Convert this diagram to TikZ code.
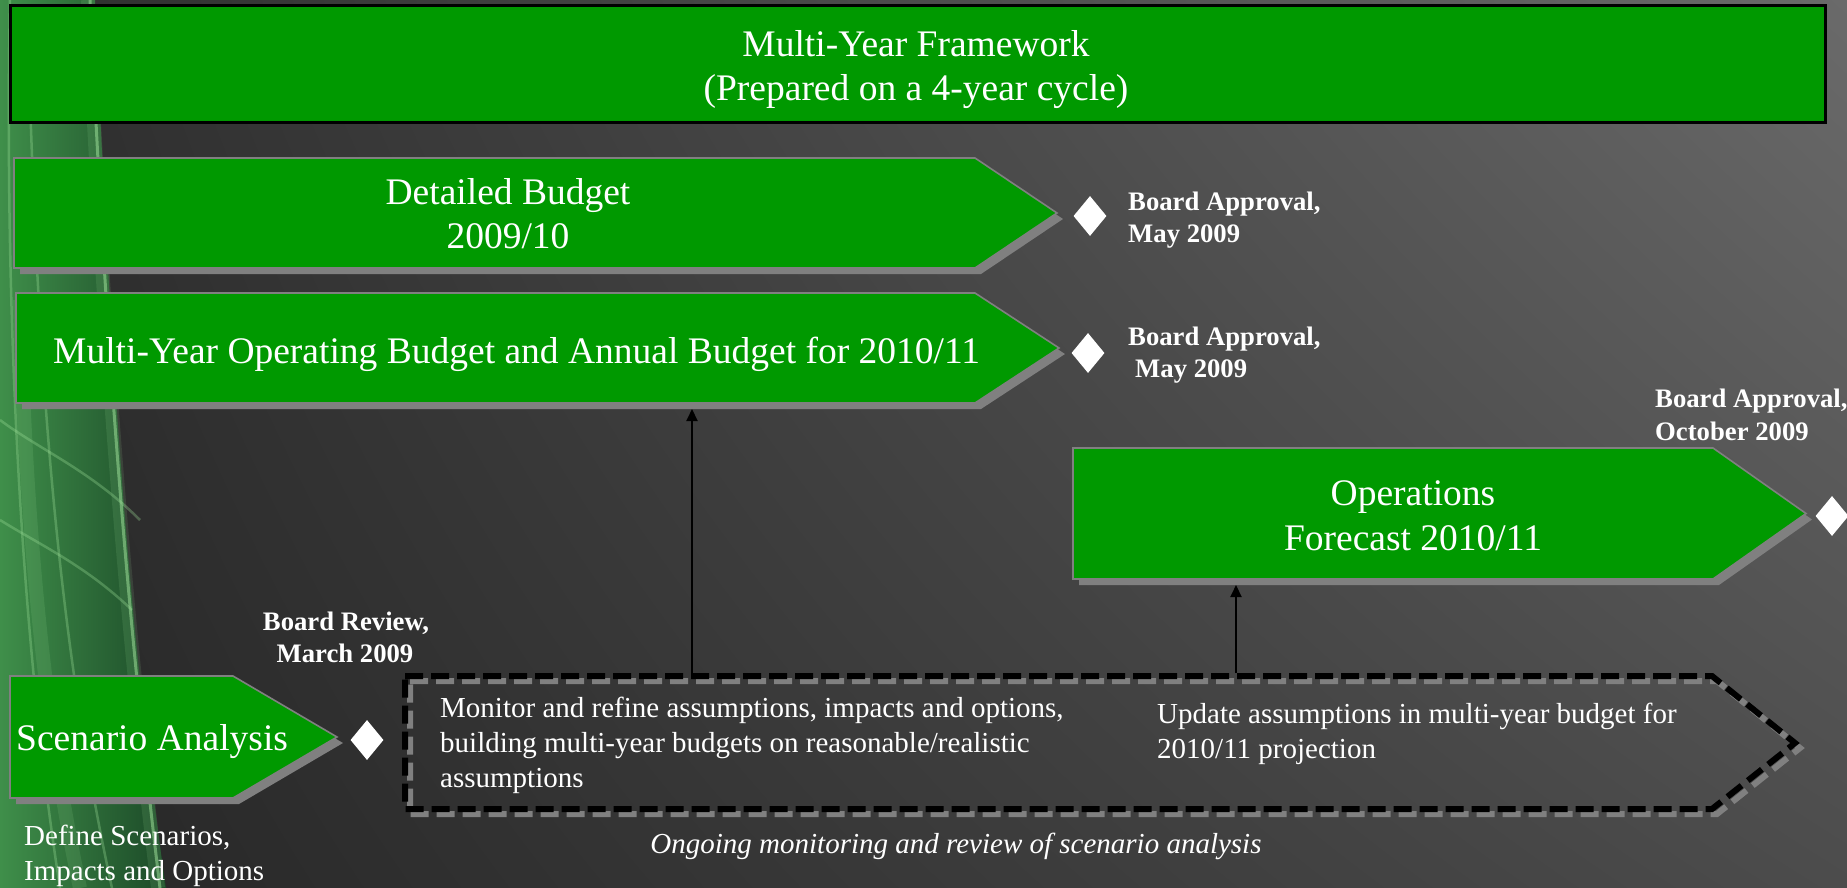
\documentclass[tikz,border=0pt]{standalone}
\usepackage{fontspec}
\setmainfont{Liberation Serif}
\usetikzlibrary{arrows.meta,shapes.geometric,shadings}
\definecolor{boxgreen}{HTML}{009900}
\definecolor{shadowgray}{HTML}{808080}
\definecolor{bgUL}{HTML}{2E2E2E}
\definecolor{bgUR}{HTML}{6A6A6A}
\definecolor{bgLL}{HTML}{262626}
\definecolor{bgLR}{HTML}{4C4C4C}
\definecolor{swirlL}{HTML}{3F8F4A}
\definecolor{swirlR}{HTML}{1C4A28}
\definecolor{swirlLine}{HTML}{A6E8A0}
\newcommand{\gArrow}[5]{%
  \fill[shadowgray] ({#1+6},{#2+6}) -- ({#4+6},{#2+6}) -- ({#5+6},{(#2+#3)/2+6}) -- ({#4+6},{#3+6}) -- ({#1+6},{#3+6}) -- cycle;
  \filldraw[fill=boxgreen, draw=shadowgray, line width=1.6] (#1,#2) -- (#4,#2) -- (#5,{(#2+#3)/2}) -- (#4,#3) -- (#1,#3) -- cycle;
}
\begin{document}
\begin{tikzpicture}[x=1pt,y=-1pt,
  big/.style={text=white, inner sep=0, font=\fontsize{37.5}{44}\selectfont},
  small/.style={text=white, inner sep=0, font=\fontsize{29}{35}\selectfont},
  lab/.style={text=white, inner sep=0, font=\bfseries\fontsize{26.7}{32}\selectfont},
  diam/.style={shape=diamond, fill=white, draw=none, inner sep=0, minimum width=33, minimum height=40},
  conn/.style={draw=black, line width=2, -{Triangle[width=11pt,length=12pt]}},
  dashblack/.style={draw=black, line width=6, dash pattern=on 18pt off 8pt},
  dashgray/.style={draw=shadowgray, line width=6, dash pattern=on 18pt off 8pt},
  swirl/.style={draw=swirlLine, line width=2.5, opacity=0.3},
  glow/.style={draw=swirlLine, line width=14, opacity=0.12}
]
\useasboundingbox (0,0) rectangle (1847,888);
% background
\shade[upper left=bgUL, upper right=bgUR, lower left=bgLL, lower right=bgLR] (0,0) rectangle (1847,888);
% green swirl
\shade[left color=swirlL, right color=swirlR] (0,0) -- (95,0) .. controls (108,300) and (124,600) .. (166,888) -- (0,888) -- cycle;
\draw[glow] (88,0) .. controls (100,260) and (118,560) .. (158,888);
\draw[glow] (20,300) .. controls (25,500) and (40,700) .. (80,888);
\draw[swirl, line width=3, opacity=0.5] (90,0) .. controls (102,260) and (120,560) .. (160,888);
\draw[swirl] (30,100) .. controls (40,400) and (60,650) .. (112,888);
\draw[swirl] (0,420) .. controls (40,450) and (90,470) .. (140,520);
\draw[swirl] (0,520) .. controls (40,545) and (85,565) .. (132,610);
\draw[swirl] (10,0) .. controls (5,250) and (15,600) .. (60,888);

% top framework box
\filldraw[fill=boxgreen, draw=black, line width=3] (10.5,5.5) rectangle (1825,123);
\node[big, anchor=base] (mf1) at (916,57) {Multi-Year Framework};
\node[big, anchor=base] (mf2) at (916,101) {(Prepared on a 4-year cycle)};

% Detailed budget
\gArrow{14}{158}{268}{975}{1057}
\node[big, anchor=base] (db1) at (508,204) {Detailed Budget};
\node[big, anchor=base] (db2) at (508,248) {2009/10};
\node[diam] (d1) at (1090,216) {};
\node[lab, anchor=base west] (l1a) at (1128,210) {Board Approval,};
\node[lab, anchor=base west] (l1b) at (1128,242) {May 2009};

% Multi-year operating budget
\gArrow{16}{293}{403}{975}{1059}
\node[big, anchor=base west] (myob) at (53,363) {Multi-Year Operating Budget and Annual Budget for 2010/11};
\node[diam] (d2) at (1088,353) {};
\node[lab, anchor=base west] (l2a) at (1128,345) {Board Approval,};
\node[lab, anchor=base west] (l2b) at (1135,377) {May 2009};

% Operations forecast
\gArrow{1073}{448}{579}{1713}{1806}
\node[big, anchor=base] (of1) at (1413,505) {Operations};
\node[big, anchor=base] (of2) at (1413,550) {Forecast 2010/11};
\node[diam] (d3) at (1832,516) {};
\node[lab, anchor=base west] (l3a) at (1655,407) {Board Approval,};
\node[lab, anchor=base west] (l3b) at (1655,440) {October 2009};

% Scenario analysis
\gArrow{10}{676}{798}{233}{337}
\node[big, anchor=base west] (sa) at (16,750) {Scenario Analysis};
\node[diam] (d4) at (367,740) {};
\node[lab, anchor=base] (l4a) at (346,630) {Board Review,};
\node[lab, anchor=base] (l4b) at (345,662) {March 2009};
\node[small, anchor=base west] (def1) at (24,845) {Define Scenarios,};
\node[small, anchor=base west] (def2) at (24,880) {Impacts and Options};

% dashed ongoing box
\draw[dashgray] (410,681) -- (1717,681) -- (1800,748) -- (1717,814) -- (410,814) -- cycle;
\draw[dashblack] (405,676) -- (1712,676) -- (1795,743) -- (1712,809) -- (405,809) -- cycle;
\node[small, anchor=base west] (mon1) at (440,717) {Monitor and refine assumptions, impacts and options,};
\node[small, anchor=base west] (mon2) at (440,752) {building multi-year budgets on reasonable/realistic};
\node[small, anchor=base west] (mon3) at (440,787) {assumptions};
\node[small, anchor=base west] (up1) at (1157,723) {Update assumptions in multi-year budget for};
\node[small, anchor=base west] (up2) at (1157,758) {2010/11 projection};
\node[small, anchor=base, font=\itshape\fontsize{29}{35}\selectfont] (ong) at (956,853) {Ongoing monitoring and review of scenario analysis};

% connectors
\coordinate (c1from) at (692,673);
\coordinate (c1to) at (692,409);
\coordinate (c2from) at (1236,673);
\coordinate (c2to) at (1236,585);
\draw[conn] (c1from) -- (c1to);
\draw[conn] (c2from) -- (c2to);
\end{tikzpicture}
\end{document}
